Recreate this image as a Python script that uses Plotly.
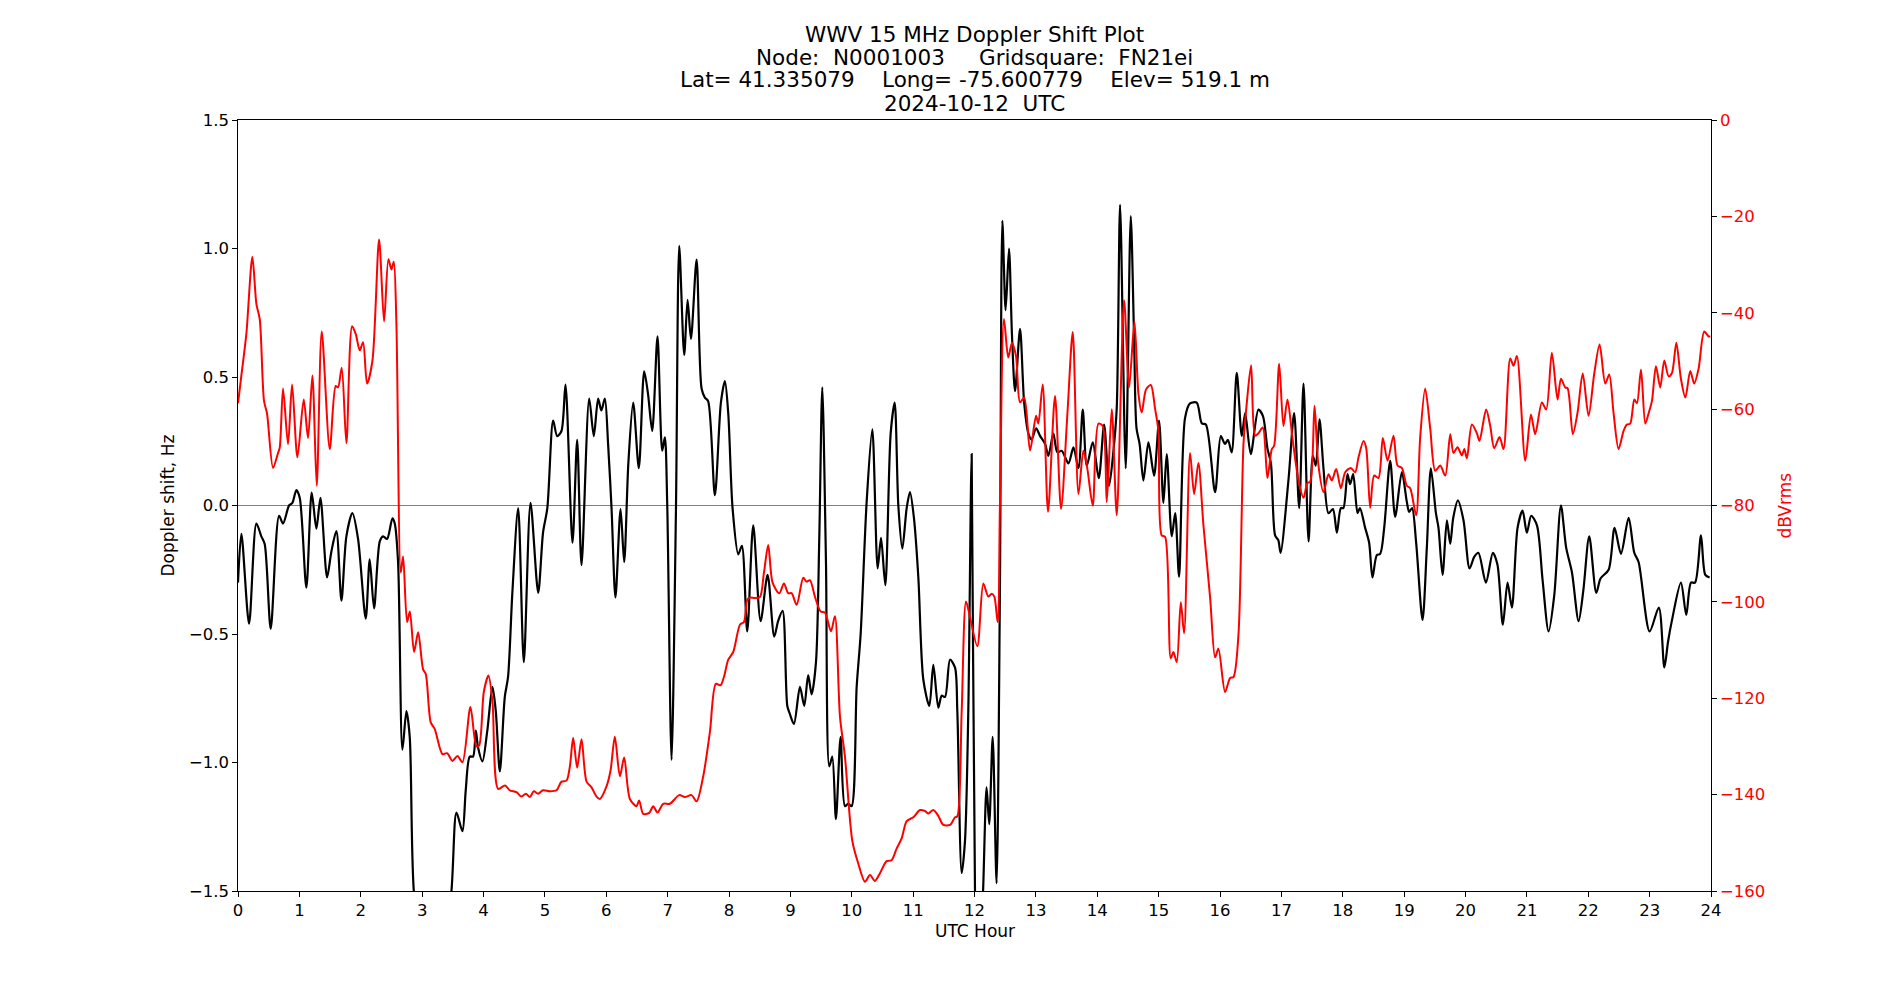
import plotly.graph_objects as go

# ---------------- data ----------------
doppler_hours = [
    0.00, 0.055, 0.18, 0.30, 0.38, 0.435, 0.533, 0.669, 0.734, 0.832, 0.886, 0.951, 1.006,
    1.114, 1.201, 1.277, 1.343, 1.451, 1.521, 1.603, 1.685, 1.766, 1.864, 1.956, 2.081,
    2.146, 2.217, 2.31, 2.364, 2.429, 2.516, 2.554, 2.608, 2.679, 2.744, 2.798, 2.864,
    3.17, 3.478, 3.56, 3.657, 3.71, 3.776, 3.83, 3.875, 3.91, 3.983, 4.06, 4.146, 4.20,
    4.266, 4.347, 4.40, 4.47, 4.565, 4.657, 4.766, 4.891, 4.97, 5.04, 5.135, 5.20, 5.27,
    5.336, 5.45, 5.526, 5.597, 5.722, 5.797, 5.868, 5.92, 5.977, 6.03, 6.086, 6.15, 6.233,
    6.292, 6.36, 6.439, 6.531, 6.618, 6.68, 6.749, 6.835, 6.912, 6.955, 6.993, 7.064, 7.135,
    7.189, 7.27, 7.325, 7.38, 7.472, 7.553, 7.607, 7.66, 7.77, 7.868, 7.933, 7.988, 8.058,
    8.151, 8.21, 8.297, 8.395, 8.515, 8.629, 8.737, 8.80, 8.873, 8.95, 8.99, 9.058, 9.156,
    9.226, 9.29, 9.346, 9.417, 9.471, 9.52, 9.58, 9.634, 9.683, 9.742, 9.818, 9.889, 9.943,
    9.997, 10.08, 10.145, 10.242, 10.335, 10.422, 10.477, 10.547, 10.634, 10.699, 10.759,
    10.824, 10.895, 10.949, 11.014, 11.085, 11.166, 11.264, 11.329, 11.411, 11.465, 11.52,
    11.601, 11.682, 11.72, 11.791, 11.845, 11.899, 11.954, 12.008, 12.07, 12.14, 12.197,
    12.24, 12.296, 12.36, 12.415, 12.454, 12.507, 12.562, 12.61, 12.661, 12.742, 12.81,
    12.878, 12.93, 13.003, 13.07, 13.15, 13.204, 13.285, 13.35, 13.42, 13.531, 13.612,
    13.694, 13.764, 13.83, 13.927, 14.025, 14.112, 14.193, 14.264, 14.317, 14.372, 14.464,
    14.546, 14.60, 14.64, 14.69, 14.752, 14.834, 14.926, 15.007, 15.078, 15.132, 15.214,
    15.27, 15.333, 15.43, 15.512, 15.621, 15.703, 15.77, 15.92, 16.013, 16.08, 16.13, 16.19,
    16.273, 16.355, 16.41, 16.501, 16.626, 16.70, 16.773, 16.83, 16.898, 16.95, 16.987,
    17.118, 17.208, 17.29, 17.361, 17.443, 17.513, 17.56, 17.621, 17.686, 17.768, 17.84,
    17.904, 17.969, 18.01, 18.077, 18.12, 18.17, 18.241, 18.28, 18.365, 18.43, 18.484,
    18.555, 18.61, 18.675, 18.773, 18.854, 18.963, 19.044, 19.082, 19.13, 19.196, 19.30,
    19.37, 19.436, 19.518, 19.56, 19.626, 19.697, 19.751, 19.80, 19.876, 19.968, 20.066,
    20.142, 20.21, 20.332, 20.446, 20.52, 20.609, 20.685, 20.756, 20.848, 20.93, 21.00,
    21.071, 21.164, 21.256, 21.354, 21.446, 21.555, 21.64, 21.734, 21.843, 21.92, 22.016,
    22.131, 22.20, 22.332, 22.429, 22.533, 22.658, 22.75, 22.82, 23.00, 23.15, 23.24, 23.30,
    23.365, 23.51, 23.597, 23.674, 23.74, 23.837, 23.907, 23.977,
]
doppler_hz = [
    -0.30, -0.11, -0.46, -0.07, -0.12, -0.15, -0.48, -0.04, -0.07, 0.00, 0.01, 0.06, 0.03,
    -0.32, 0.05, -0.09, 0.03, -0.28, -0.18, -0.10, -0.37, -0.12, -0.03, -0.13, -0.44,
    -0.21, -0.40, -0.14, -0.12, -0.13, -0.05, -0.07, -0.22, -0.95, -0.80, -0.90, -1.50,
    -2.2, -1.50, -1.195, -1.267, -1.11, -0.977, -0.977, -0.876, -0.94, -0.996, -0.88, -0.706, -0.80,
    -1.035, -0.745, -0.667, -0.34, -0.01, -0.61, 0.01, -0.34, -0.106, -0.01, 0.33, 0.27, 0.29,
    0.47, -0.145, 0.255, -0.232, 0.416, 0.27, 0.416, 0.37, 0.416, 0.24, -0.01, -0.358, -0.014,
    -0.22, 0.164, 0.40, 0.145, 0.522, 0.435, 0.29, 0.658, 0.213, 0.265, 0.01, -0.99, -0.03,
    1.01, 0.586, 0.80, 0.648, 0.957, 0.455, 0.42, 0.406, 0.04, 0.40, 0.484, 0.358, -0.01,
    -0.19, -0.157, -0.49, -0.077, -0.45, -0.27, -0.51, -0.45, -0.41, -0.78, -0.81, -0.85, -0.706,
    -0.78, -0.66, -0.735, -0.61, -0.126, 0.46, -0.22, -1.015, -0.977, -1.22, -0.90, -1.17, -1.16,
    -1.17, -0.706, -0.50, 0.01, 0.296, -0.245, -0.126, -0.31, 0.28, 0.40, 0.0,
    -0.168, -0.01, 0.052, -0.05, -0.28, -0.677, -0.78, -0.62, -0.787, -0.74, -0.745,
    -0.60, -0.63, -0.80, -1.43, -1.305, -0.80, 0.20, -1.50, -1.9, -1.50, -1.097,
    -1.24, -0.90, -1.47, -0.30, 1.108, 0.76, 1.00, 0.667, 0.445, 0.687, 0.397,
    0.28, 0.257, 0.30, 0.27, 0.24, 0.193, 0.28, 0.207, 0.213, 0.164, 0.226,
    0.145, 0.373, 0.155, 0.246, 0.106, 0.315, 0.077, 0.213, 0.377, 1.17, 0.145,
    1.126, 0.65, 0.30, 0.24, 0.097, 0.246, 0.116, 0.33, 0.01, 0.20, -0.12,
    -0.03, -0.277, 0.34, 0.397, 0.40, 0.32, 0.315, 0.052, 0.27, 0.24, 0.255, 0.207,
    0.516, 0.27, 0.36, 0.20, 0.373, 0.348, 0.222, 0.164, -0.116, -0.135, -0.184,
    0.106, 0.36, -0.01, 0.474, -0.14, 0.193, 0.155, 0.335, 0.145, -0.03, -0.014,
    -0.106, -0.01, -0.01, 0.122, 0.083, 0.122, -0.03, -0.01, -0.087, -0.145, -0.28,
    -0.193, -0.188, -0.087, 0.174, -0.044, 0.13, 0.014, -0.025, -0.01, -0.145, -0.445,
    -0.164, 0.145, -0.03, -0.087, -0.27, -0.058, -0.149, -0.048, 0.02, -0.058, -0.245,
    -0.20, -0.184, -0.30, -0.184, -0.23, -0.464, -0.30, -0.397, -0.087, -0.02, -0.106,
    -0.04, -0.077, -0.29, -0.49, -0.35, 0.0, -0.164, -0.26, -0.45, -0.33, -0.12,
    -0.34, -0.284, -0.25, -0.087, -0.188, -0.048, -0.184, -0.22, -0.49, -0.397, -0.63, -0.53,
    -0.445, -0.30, -0.426, -0.30, -0.30, -0.116, -0.27, -0.28,
]

level_hours = [
    0.00, 0.055, 0.136, 0.234, 0.30, 0.354, 0.424, 0.473, 0.571, 0.652, 0.68, 0.734, 0.815,
    0.881, 0.968, 1.071, 1.141, 1.212, 1.283, 1.364, 1.495, 1.592, 1.63, 1.69, 1.766, 1.859,
    1.918, 1.984, 2.038, 2.103, 2.19, 2.299, 2.38, 2.451, 2.50, 2.538, 2.581, 2.652, 2.69,
    2.755, 2.80, 2.869, 2.935, 3.016, 3.06, 3.14, 3.206, 3.331, 3.407, 3.494, 3.576, 3.657,
    3.787, 3.885, 3.929, 4.005, 4.081, 4.146, 4.239, 4.35, 4.429, 4.537, 4.619, 4.69, 4.755,
    4.82, 4.89, 4.97, 5.081, 5.19, 5.27, 5.352, 5.407, 5.461, 5.526, 5.597, 5.679, 5.76,
    5.842, 5.896, 6.004, 6.07, 6.14, 6.222, 6.292, 6.385, 6.493, 6.536, 6.602, 6.70, 6.765,
    6.835, 6.928, 7.037, 7.189, 7.281, 7.39, 7.472, 7.58, 7.689, 7.786, 7.863, 7.917, 7.988,
    8.069, 8.18, 8.243, 8.297, 8.341, 8.423, 8.504, 8.569, 8.639, 8.71, 8.819, 8.895, 8.965,
    9.02, 9.102, 9.21, 9.264, 9.319, 9.40, 9.493, 9.563, 9.661, 9.726, 9.808, 9.889, 10.009,
    10.106, 10.215, 10.296, 10.378, 10.46, 10.568, 10.65, 10.731, 10.813, 10.895, 11.003,
    11.112, 11.193, 11.248, 11.329, 11.41, 11.492, 11.60, 11.683, 11.72, 11.791, 11.862,
    11.927, 12.046, 12.144, 12.225, 12.28, 12.323, 12.378, 12.415, 12.48, 12.55, 12.611,
    12.676, 12.742, 12.81, 12.905, 13.003, 13.04, 13.111, 13.198, 13.312, 13.41, 13.514,
    13.601, 13.694, 13.775, 13.839, 13.927, 14.019, 14.089, 14.155, 14.236, 14.318, 14.437,
    14.519, 14.606, 14.671, 14.725, 14.795, 14.872, 14.942, 14.996, 15.05, 15.105, 15.197,
    15.241, 15.295, 15.361, 15.415, 15.512, 15.578, 15.648, 15.73, 15.839, 15.92, 15.974,
    16.083, 16.165, 16.219, 16.301, 16.383, 16.436, 16.507, 16.572, 16.626, 16.697, 16.773,
    16.844, 16.882, 16.964, 17.034, 17.099, 17.181, 17.279, 17.361, 17.425, 17.469, 17.54,
    17.60, 17.686, 17.768, 17.822, 17.893, 17.969, 18.04, 18.131, 18.202, 18.257, 18.338,
    18.382, 18.447, 18.512, 18.582, 18.653, 18.73, 18.827, 18.892, 18.963, 19.044, 19.098,
    19.196, 19.261, 19.343, 19.425, 19.507, 19.588, 19.67, 19.751, 19.805, 19.87, 19.941,
    19.98, 20.023, 20.104, 20.185, 20.228, 20.336, 20.403, 20.468, 20.555, 20.62, 20.729,
    20.783, 20.838, 20.974, 21.066, 21.136, 21.245, 21.315, 21.407, 21.50, 21.555, 21.625,
    21.664, 21.749, 21.826, 21.91, 22.005, 22.098, 22.185, 22.277, 22.342, 22.413, 22.494,
    22.576, 22.63, 22.684, 22.75, 22.793, 22.859, 22.93, 22.983, 23.038, 23.103, 23.173,
    23.239, 23.31, 23.364, 23.435, 23.51, 23.582, 23.662, 23.727, 23.798, 23.89, 23.96, 23.99,
]
level_dbvrms = [
    -58.8, -53.0, -44.4, -28.4, -38.2, -41.3, -58.3, -60.9, -72.2, -69.1, -68.0, -55.7, -67.3,
    -54.9, -70.0, -58.0, -66.0, -53.0, -75.9, -43.9, -68.3, -55.2, -55.5, -51.4, -67.1, -42.8,
    -44.4, -47.8, -46.1, -54.7, -50.0, -24.8, -41.8, -28.9, -31.0, -29.4, -42.3, -93.9, -90.6,
    -104.2, -102.0, -110.4, -106.3, -114.0, -115.0, -125.0, -126.4, -131.6, -131.4, -133.0, -132.0, -133.3,
    -121.8, -130.0, -129.8, -118.7, -115.3, -120.7, -138.8, -138.1, -139.1, -139.5, -140.4, -139.8, -140.5,
    -139.3, -139.8, -139.1, -139.3, -139.1, -137.3, -137.1, -134.2, -128.2, -134.4, -128.5, -137.3, -138.5,
    -140.4, -140.9, -138.3, -135.0, -128.0, -136.2, -132.3, -140.9, -142.4, -141.2, -144.0, -143.8, -142.4,
    -143.7, -141.9, -141.9, -140.1, -140.5, -140.1, -141.4, -136.2, -127.0, -117.0, -117.3, -115.6, -112.0,
    -110.4, -104.7, -104.2, -99.6, -99.1, -99.2, -99.0, -94.0, -88.2, -96.0, -98.2, -96.2, -98.2,
    -98.2, -100.6, -95.0, -95.8, -95.5, -98.9, -102.0, -102.2, -106.1, -103.0, -123.8, -132.1, -149.6,
    -154.3, -158.1, -156.7, -157.9, -156.3, -153.8, -153.6, -151.2, -149.1, -145.5, -144.7,
    -143.2, -143.4, -143.9, -143.2, -144.4, -146.3, -146.3, -144.7, -144.5, -122.8, -99.9,
    -103.2, -109.2, -96.2, -98.9, -98.3, -98.9, -104.2, -79.5, -41.3, -49.3, -46.2,
    -49.0, -58.6, -57.6, -68.6, -61.4, -63.0, -54.9, -81.3, -57.3, -80.7, -60.9,
    -44.0, -77.6, -68.6, -72.4, -80.0, -63.0, -63.5, -79.3, -60.0, -82.0, -37.4,
    -55.5, -41.8, -56.8, -60.7, -55.9, -55.0, -59.9, -64.5, -86.2, -86.5, -111.7,
    -110.4, -112.5, -100.1, -106.5, -69.1, -77.6, -71.2, -84.1, -99.1, -111.5, -109.7,
    -118.7, -115.8, -115.6, -106.8, -67.1, -58.8, -50.9, -65.5, -65.0, -63.8, -74.3,
    -68.3, -67.6, -50.6, -63.5, -58.0, -66.0, -74.8, -78.4, -75.3, -75.1, -59.3,
    -71.2, -77.2, -73.5, -74.8, -72.4, -76.4, -73.1, -72.2, -73.1, -70.0, -66.6,
    -68.1, -80.5, -73.8, -74.3, -66.0, -70.7, -65.5, -71.7, -72.2, -75.9, -76.4,
    -82.0, -66.0, -55.7, -64.0, -72.8, -71.7, -73.8, -65.2, -69.1, -67.9, -69.6,
    -68.3, -70.2, -63.2, -65.0, -66.6, -60.1, -63.5, -68.1, -65.8, -68.3, -49.5,
    -51.0, -49.0, -70.7, -61.1, -65.2, -58.6, -60.1, -48.3, -58.0, -53.7, -55.5,
    -55.7, -65.2, -60.7, -52.6, -61.4, -52.6, -46.6, -54.7, -52.8, -60.9, -68.3,
    -64.5, -63.2, -63.0, -58.0, -58.8, -51.8, -63.0, -60.9, -58.3, -51.1, -55.5,
    -49.9, -53.2, -52.5, -46.2, -53.7, -57.6, -52.1, -54.7, -51.6, -43.9, -44.9, -44.9,
]

hour_ticks = list(range(0, 25))
doppler_ticks = [-1.5, -1.0, -0.5, 0.0, 0.5, 1.0, 1.5]
level_ticks = [-160, -140, -120, -100, -80, -60, -40, -20, 0]

title_lines = [
    "WWV 15 MHz Doppler Shift Plot",
    "Node:  N0001003     Gridsquare:  FN21ei",
    "Lat= 41.335079    Long= -75.600779    Elev= 519.1 m",
    "2024-10-12  UTC",
]

# ---------------- figure ----------------
FONT = "DejaVu Sans"
fig = go.Figure()

fig.add_trace(go.Scatter(
    x=doppler_hours, y=doppler_hz, mode="lines",
    line=dict(color="black", width=2.2, shape="spline", smoothing=0.8),
    yaxis="y", showlegend=False, hoverinfo="skip",
))
fig.add_trace(go.Scatter(
    x=level_hours, y=level_dbvrms, mode="lines",
    line=dict(color="red", width=2.0, shape="spline", smoothing=0.8),
    yaxis="y2", showlegend=False, hoverinfo="skip",
))

# zero reference line
fig.add_shape(type="line", xref="paper", x0=0, x1=1, yref="y", y0=0, y1=0,
              line=dict(color="#808080", width=1.2), layer="below")

annotations = []
title_y = [1.1103, 1.0817, 1.0519, 1.0208]
for txt, yy in zip(title_lines, title_y):
    annotations.append(dict(text=txt, xref="paper", yref="paper", x=0.5, y=yy,
                            xanchor="center", yanchor="middle", showarrow=False,
                            font=dict(family=FONT, size=21.5, color="black")))
annotations.append(dict(text="Doppler shift, Hz", xref="paper", yref="paper", x=-0.0482, y=0.5,
                        textangle=-90, xanchor="center", yanchor="middle", showarrow=False,
                        font=dict(family=FONT, size=17, color="black")))
annotations.append(dict(text="UTC Hour", xref="paper", yref="paper", x=0.5, y=-0.0519,
                        xanchor="center", yanchor="middle", showarrow=False,
                        font=dict(family=FONT, size=17, color="black")))
annotations.append(dict(text="dBVrms", xref="paper", yref="paper", x=1.0496, y=0.5,
                        textangle=-90, xanchor="center", yanchor="middle", showarrow=False,
                        font=dict(family=FONT, size=17, color="red")))

fig.update_layout(
    width=1900, height=1000,
    margin=dict(l=238, r=189, t=120, b=109),
    paper_bgcolor="white", plot_bgcolor="white",
    font=dict(family=FONT, size=16, color="black"),
    annotations=annotations,
    xaxis=dict(range=[0, 24], tickmode="array", tickvals=hour_ticks,
               ticktext=[str(h) for h in hour_ticks],
               showgrid=False, zeroline=False, showline=True, linecolor="black",
               linewidth=1.2, mirror=True, ticks="outside", ticklen=4.5, tickwidth=1.2,
               tickcolor="black", tickfont=dict(family=FONT, size=16.5, color="black")),
    yaxis=dict(range=[-1.5, 1.5], tickmode="array", tickvals=doppler_ticks,
               ticktext=[f"{v:.1f}".replace("-", "\u2212") for v in doppler_ticks],
               showgrid=False, zeroline=False, showline=True, linecolor="black",
               linewidth=1.2, ticks="outside", ticklen=4.5, tickwidth=1.2,
               tickcolor="black", tickfont=dict(family=FONT, size=16.5, color="black")),
    yaxis2=dict(range=[-160, 0], overlaying="y", side="right", tickmode="array",
                tickvals=level_ticks,
                ticktext=[str(v).replace("-", "\u2212") for v in level_ticks],
                showgrid=False, zeroline=False, showline=True, linecolor="black",
                linewidth=1.2, ticks="outside", ticklen=4.5, tickwidth=1.2,
                tickcolor="black", tickfont=dict(family=FONT, size=16.5, color="red")),
)

fig.write_html("out.html")
